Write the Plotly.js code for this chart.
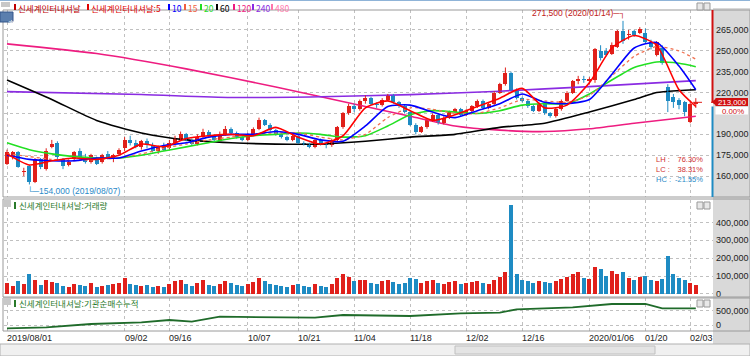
<!DOCTYPE html>
<html><head><meta charset="utf-8">
<script src="https://cdn.plot.ly/plotly-3.0.1.min.js"></script>
<style>html,body{margin:0;padding:0;background:#fff;overflow:hidden}#chart{width:750px;height:356px;}</style>
</head><body><div id="chart"></div>
<script>
// ---- data (KRW) ----
const tickIdx  = [0,21,29,43,52,62,72,82,92,104,114,122];
const tickText = ['2019/08/01','09/02','09/16','10/07','10/21','11/04','11/18','12/02','12/16','2020/01/06','01/20','02/03'];

const open  = [169,174,177,163,167,156,172,165,181,184,172,168,172,178,174,170,173,170,176,172,176,180,186,184,181,185,182,178,181,180,184,187,190,186,183,188,192,189,186,190,194,191,188,186,190,194,200,197,193,190,188,186,189,184,183,181,186,183,182,186,195,205,210,208,214,216,212,211,215,218,213,210,206,197,192,195,200,204,198,202,206,208,204,207,210,214,209,212,220,226,234,222,216,214,210,207,212,205,203,208,214,220,228,230,228,229,250,250,248,253,264,261,264,263,263,256,247,252,224,217,215,213,199,212].map(v=>v*1000);
const high  = [179,178,178,166,168,173,173,180,186,185,173,172,178,180,176,176,174,176,178,176,180,188,189,186,186,187,184,182,184,186,189,192,191,187,190,194,193,190,192,196,195,192,189,191,195,202,201,198,194,191,189,190,190,185,184,187,187,184,187,196,206,212,212,215,218,217,213,216,219,219,214,211,207,198,196,201,205,205,203,207,209,209,208,211,215,215,213,221,227,238,235,223,217,215,211,213,213,206,209,215,221,229,232,232,231,252,254,252,256,265,271.5,265,265,267,266,258,257,254,226,219,216,214,213,216].map(v=>v*1000);
const low   = [168,172,166,160,154,155,165,164,180,172,165,167,171,172,169,169,168,169,172,170,175,178,182,180,179,180,177,176,178,179,183,186,185,182,182,187,188,185,185,189,190,187,185,185,189,193,196,192,189,187,185,185,183,182,180,180,182,180,181,185,194,204,206,207,212,211,209,210,214,212,209,205,196,190,191,194,199,197,197,201,205,203,203,206,209,208,208,211,219,225,221,215,213,209,206,206,204,202,202,207,213,219,226,227,226,227,243,246,247,252,255,258,260,262,255,251,246,240,206,209,208,203,198,209].map(v=>v*1000);
const close = [177,177,166.5,164,156,172,166.5,178,183,174,167,170,177,174,170,175,169,175,173,175,179,186,184,181,185,182,178,181,179,184,187,190,186,183,188,192,189,186,190,194,191,188,186,190,194,200,197,193,190,188,186,189,184,183,181,186,183,182,186,195,205,210,208,214,216,212,211,215,218,213,210,206,197,192,195,200,204,198,202,206,208,204,207,210,214,209,212,220,226,234,222,216,214,210,207,212,205,203,208,214,220,228,230,229,230,251,245,247,254,264,257,262,261,266,256,253,256,241,214,213,211,206,212,213].map(v=>v*1000);
const volume = [60,45,70,55,110,75,50,80,65,60,45,40,55,50,45,60,40,45,50,55,60,90,55,50,45,50,40,45,40,55,70,80,55,45,60,75,50,45,55,70,60,50,45,55,65,90,70,55,50,45,40,50,55,45,40,55,45,40,55,90,110,95,70,80,75,60,55,70,75,65,55,60,90,85,60,70,75,60,55,65,70,55,60,65,70,60,55,80,95,120,497,110,80,70,60,70,65,60,70,85,95,110,120,90,85,150,140,100,130,110,120,90,80,95,100,80,70,85,210,110,90,75,63,51].map(v=>v*1000);

const maIdx  = [0,4,8,12,16,20,24,28,32,36,40,44,48,52,56,60,64,68,72,76,80,84,88,92,96,100,104,108,112,116,120,123];
const ma5    = [176,168,171,173,172,175,183,181,187,189,190,189,195,188,183,189,209,214,207,200,204,210,216,223,209,211,227,252,261,254,222,210];
const ma10   = [175,172,171,171,173,173,178,182,184,188,190,190,192,190,186,185,196,210,211,206,202,207,212,219,213,212,215,233,252,256,239,222];
const ma15   = [176,174,172,171,172,173,176,180,183,186,188,190,191,191,188,186,190,202,209,208,205,205,209,215,214,213,218,232,246,253,250,244];
const ma20   = [184,179,176,174,173,173,175,178,181,184,187,189,190,191,190,188,189,196,204,207,206,205,207,211,212,212,219,229,238,242,241,238.6];
const ma60x  = [0,8,16,24,32,40,48,56,64,72,80,88,96,104,112,116,120,123];
const ma60   = [229,215,200,191,186,184,183,183,185,188,190,195,198,206,215,220,221.4,222];
const ma120x = [0,16,32,48,64,72,80,88,96,104,112,123];
const ma120  = [255,248,237,224,210,203,196,193,192,194,198,203];
const ma240x = [0,24,40,56,72,88,104,123];
const ma240  = [220.7,218.6,216.5,217,218.5,221,224.3,228.6];

const instX  = [0,7,15,24,29,33,38,55,60,72,81,88,91,101,108,114,117,123];
const instV  = [-115,-80,35,94,175,115,290,255,350,315,410,430,550,620,735,735,585,585];

const K = v => v*1000;
// ---- geometry helpers (pixel -> paper) ----
const L=4, R=37, W=750-L-R, H=356;
const px = x => (x-L)/W;
const py = y => (H-y)/H;

const up = close.map((c,i)=>c>=open[i]);
const idx = close.map((c,i)=>i);
const last = close[close.length-1];

function wick(sel){
  const xs=[],ys=[];
  idx.forEach(i=>{ if(up[i]===sel){xs.push(i,i,null);ys.push(low[i],high[i],null);} });
  return {x:xs,y:ys};
}
function body(sel){
  const xs=[],b=[],h=[];
  idx.forEach(i=>{ if(up[i]===sel){xs.push(i);b.push(Math.min(open[i],close[i]));h.push(Math.max(Math.abs(close[i]-open[i]),700));} });
  return {x:xs,base:b,y:h};
}
const RED='#e0201b', BLUE='#1e8bc3';
const traces=[];
function maTrace(x,y,color,dash,w){
  traces.push({type:'scatter',mode:'lines',x:x,y:y.map(K),line:{color:color,width:w||1.6,dash:dash||'solid',shape:'spline',smoothing:0.6},xaxis:'x',yaxis:'y',hoverinfo:'skip'});
}
maTrace(ma120x,ma120,'#ee1c80');
maTrace(ma240x,ma240,'#8a2be2');
maTrace(ma60x,ma60,'#000000');
[[true,RED],[false,BLUE]].forEach(([s,c])=>{
  const w=wick(s);
  traces.push({type:'scatter',mode:'lines',x:w.x,y:w.y,line:{color:c,width:1},xaxis:'x',yaxis:'y',hoverinfo:'skip'});
  const b=body(s);
  traces.push({type:'bar',x:b.x,base:b.base,y:b.y,width:0.72,marker:{color:c,line:{width:0}},xaxis:'x',yaxis:'y',hoverinfo:'skip'});
});
maTrace(maIdx,ma20,'#22e022');
maTrace(maIdx,ma15,'#f07050','dot',1.3);
maTrace(maIdx,ma10,'#0000ff');
maTrace(maIdx,ma5,'#ff0000');
// current price line
traces.push({type:'scatter',mode:'lines',x:[idx.length-1.5,idx.length+2],y:[last,last],line:{color:RED,width:1,dash:'dash'},xaxis:'x',yaxis:'y',hoverinfo:'skip'});
// volume
traces.push({type:'bar',x:idx,y:volume,width:0.72,marker:{color:up.map(u=>u?RED:BLUE),line:{width:0}},xaxis:'x2',yaxis:'y2',hoverinfo:'skip'});
// institution cumulative
traces.push({type:'scatter',mode:'lines',x:instX,y:instV.map(K),line:{color:'#1f6b2a',width:1.8},xaxis:'x3',yaxis:'y3',hoverinfo:'skip'});

const xr=[(L-7)/5.6,(713-7)/5.6];
const gx={type:'linear',range:xr,tickvals:tickIdx,showticklabels:false,showgrid:true,gridcolor:'#c0c0c0',griddash:'dot',gridwidth:1,zeroline:false,showline:false,ticks:''};
const AX='Liberation Sans, Arial, sans-serif';
const tf={family:AX,size:9,color:'#222'};
const priceTicks=[160,175,190,205,220,235,250,265].map(K);
const layout={
  width:750,height:356,margin:{l:L,r:R,t:0,b:0},
  paper_bgcolor:'#ffffff',plot_bgcolor:'#ffffff',showlegend:false,bargap:0,
  xaxis:Object.assign({},gx,{domain:[0,1],anchor:'y'}),
  xaxis2:Object.assign({},gx,{domain:[0,1],anchor:'y2',matches:'x'}),
  xaxis3:Object.assign({},gx,{domain:[0,1],anchor:'y3',matches:'x'}),
  yaxis:{domain:[py(197),py(10)],range:[145000,279300],side:'right',tickvals:priceTicks,
    ticktext:priceTicks.map(v=>v===205000?'':v.toLocaleString('en-US')),tickfont:tf,showgrid:true,gridcolor:'#c0c0c0',griddash:'dot',zeroline:false,ticks:'',ticklabelstandoff:2},
  yaxis2:{domain:[py(296),py(200)],range:[-12000,526000],side:'right',tickvals:[0,100000,200000,300000,400000],
    ticktext:['0','100,000','200,000','300,000','400,000'],tickfont:tf,showgrid:true,gridcolor:'#c0c0c0',griddash:'dot',zeroline:false,ticks:'',ticklabelstandoff:2},
  yaxis3:{domain:[py(331),py(298)],range:[-210000,945000],side:'right',tickvals:[0,500000],
    ticktext:['0','500,000'],tickfont:tf,showgrid:true,gridcolor:'#c0c0c0',griddash:'dot',zeroline:false,ticks:'',ticklabelstandoff:2},
  shapes:[],annotations:[]
};
const S=layout.shapes, A=layout.annotations;
// gray right strip
S.push({type:'rect',xref:'paper',yref:'paper',x0:px(713),x1:px(750),y0:py(344),y1:py(8),fillcolor:'#d9d9d9',line:{width:0},layer:'below'});
// panel frames
[[10,197],[199,297],[298,331]].forEach(([a,b])=>S.push({type:'rect',xref:'paper',yref:'paper',x0:px(3),x1:px(750),y0:py(b),y1:py(a),line:{color:'#9a9a9a',width:1},fillcolor:'rgba(0,0,0,0)'}));
// top line
S.push({type:'line',xref:'paper',yref:'paper',x0:px(0),x1:px(750),y0:py(0.5),y1:py(0.5),line:{color:'#8fb4d8',width:1}});
// current price bar
S.push({type:'line',xref:'paper',yref:'y',x0:px(712.5),x1:px(712.5),y0:last,y1:279300,line:{color:'#d01010',width:2}});
S.push({type:'line',xref:'paper',yref:'y',x0:px(712.5),x1:px(712.5),y0:145000,y1:last-3000,line:{color:'#1e8bc3',width:2}});
// scrollbar
S.push({type:'rect',xref:'paper',yref:'paper',x0:px(0),x1:px(750),y0:py(356),y1:py(344),fillcolor:'#f0f0f0',line:{color:'#b0b0b0',width:1}});
S.push({type:'rect',xref:'paper',yref:'paper',x0:px(455),x1:px(655),y0:py(354),y1:py(346),fillcolor:'#e4e4e4',line:{color:'#c0c0c0',width:1}});
// small window icons
[[3,10],[202,209],[300,307]].forEach(([a,b])=>{
  S.push({type:'rect',xref:'paper',yref:'paper',x0:px(697),x1:px(703),y0:py(b),y1:py(a),fillcolor:'#e8e8e8',line:{color:'#999',width:1}});
  S.push({type:'rect',xref:'paper',yref:'paper',x0:px(704),x1:px(710),y0:py(b),y1:py(a),fillcolor:'#e8e8e8',line:{color:'#999',width:1}});
});
[[200,207],[298,305]].forEach(([a,b])=>S.push({type:'rect',xref:'paper',yref:'paper',x0:px(3),x1:px(11),y0:py(b),y1:py(a),fillcolor:'#c8c8c8',line:{width:0}}));
S.push({type:'rect',xref:'paper',yref:'paper',x0:px(1),x1:px(10),y0:py(7),y1:py(2),fillcolor:'#c8c8c8',line:{width:0}});
S.push({type:'rect',xref:'paper',yref:'paper',x0:px(0),x1:px(13),y0:py(22),y1:py(12),fillcolor:'#5b7fae',line:{color:'#34568a',width:1}});
A.push({xref:'paper',yref:'paper',x:px(6.5),y:py(17),text:'호',showarrow:false,borderpad:0,font:{family:'Noto Sans CJK KR',size:7.5,color:'#fff'}});

// x labels
tickIdx.forEach((t,k)=>A.push({xref:'x3',yref:'paper',x:t,y:py(338),text:tickText[k],xanchor:'left',yanchor:'middle',showarrow:false,borderpad:0,xshift:-1,font:tf}));

// header legend
const kf='Noto Sans CJK KR, sans-serif';
const leg=[['신세계인터내셔날','#c00000',14],['신세계인터내셔날:5','#e00000',87],['10','#0000ff',168],['15','#f06040',184],['20','#22dd22',200],['60','#000000',216],['120','#ee1c80',233],['240','#8a2be2',252],['480','#ff77aa',271]];
leg.forEach(([t,c,x])=>{
  S.push({type:'rect',xref:'paper',yref:'paper',x0:px(x),x1:px(x+2),y0:py(10),y1:py(4),fillcolor:c,line:{width:0}});
  A.push({xref:'paper',yref:'paper',x:px(x+3),y:py(7.5),text:t,xanchor:'left',yanchor:'middle',showarrow:false,borderpad:0,font:{family:kf,size:8.5,color:c}});
});
[['신세계인터내셔날:거래량',205],['신세계인터내셔날:기관순매수누적',303]].forEach(([t,y])=>{
  S.push({type:'rect',xref:'paper',yref:'paper',x0:px(14),x1:px(16),y0:py(y+4),y1:py(y-3),fillcolor:'#2a7a2a',line:{width:0}});
  A.push({xref:'paper',yref:'paper',x:px(18),y:py(y),text:t,xanchor:'left',yanchor:'middle',showarrow:false,borderpad:0,font:{family:kf,size:8.5,color:'#2a7a2a'}});
});
// high / low annotations
const hiI=high.indexOf(Math.max(...high)), loI=low.indexOf(Math.min(...low));
const af='Liberation Sans, Arial, sans-serif';
A.push({xref:'x',yref:'paper',x:hiI,y:py(14),text:(high[hiI]).toLocaleString('en-US')+' (2020/01/14)─┐',xanchor:'right',yanchor:'middle',xshift:3,showarrow:false,borderpad:0,font:{family:af,size:8.5,color:'#c02020'}});
A.push({xref:'x',yref:'y',x:hiI,y:high[hiI],ax:hiI,ay:py(15),axref:'x',ayref:'paper',showarrow:true,arrowhead:2,arrowsize:0.6,arrowwidth:1,arrowcolor:'#c02020',text:'',standoff:1});
A.push({xref:'x',yref:'paper',x:loI,y:py(191),text:'└─'+(low[loI]).toLocaleString('en-US')+' (2019/08/07)',xanchor:'left',yanchor:'middle',xshift:-3,showarrow:false,borderpad:0,font:{family:af,size:8.5,color:'#2a8ac8'}});
// LH / LC / HC box (labels column + values column)
const RD='#d03030', BL='#2a8ac8';
A.push({xref:'paper',yref:'paper',x:px(655),y:py(170),text:'<span style="color:'+RD+'">LH :</span><br><span style="color:'+RD+'">LC :</span><br><span style="color:'+BL+'">HC :</span>',align:'left',xanchor:'left',yanchor:'middle',showarrow:false,borderpad:0,font:{family:af,size:7.5,color:RD}});
A.push({xref:'paper',yref:'paper',x:px(704),y:py(170),text:'<span style="color:'+RD+'">76.30%</span><br><span style="color:'+RD+'">38.31%</span><br><span style="color:'+BL+'">-21.55%</span>',align:'right',xanchor:'right',yanchor:'middle',showarrow:false,borderpad:0,font:{family:af,size:7.5,color:RD}});
// current price labels
S.push({type:'rect',xref:'paper',yref:'paper',x0:px(715.5),x1:px(748),y0:py(106),y1:py(98),fillcolor:'#d01010',line:{width:0}});
S.push({type:'path',xref:'paper',yref:'paper',path:'M '+px(711.5)+' '+py(102)+' L '+px(716)+' '+py(98.5)+' L '+px(716)+' '+py(105.5)+' Z',fillcolor:'#d01010',line:{width:0}});
A.push({xref:'paper',yref:'paper',x:px(717),y:py(102.3),text:last.toLocaleString('en-US'),xanchor:'left',yanchor:'middle',borderpad:0,showarrow:false,font:{family:AX,size:7.8,color:'#fff'}});
S.push({type:'rect',xref:'paper',yref:'paper',x0:px(715.5),x1:px(748),y0:py(114.5),y1:py(107),fillcolor:'#ffffff',line:{width:0}});
A.push({xref:'paper',yref:'paper',x:px(745),y:py(111.5),text:'0.00%',xanchor:'right',yanchor:'middle',borderpad:0,showarrow:false,font:{family:AX,size:7.8,color:'#d01010'}});

Plotly.newPlot('chart',traces,layout,{staticPlot:true,displayModeBar:false});
</script></body></html>
